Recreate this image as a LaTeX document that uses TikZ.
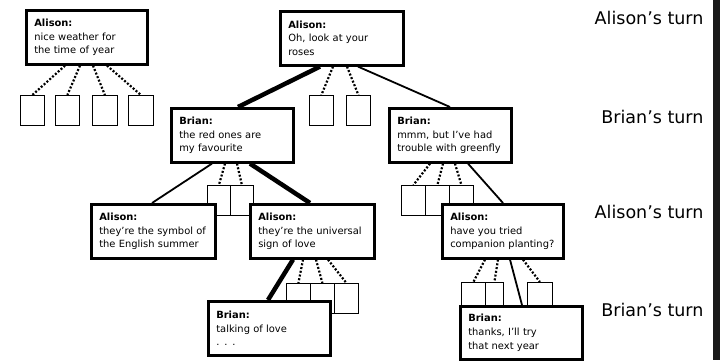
\documentclass[tikz,border=0pt]{standalone}
\usepackage{fontspec}
\setmainfont{DejaVu Sans}
\usetikzlibrary{backgrounds}
\tikzset{
  talk/.style={draw, line width=2.6pt, fill=white, anchor=north west, align=left,
    inner xsep=8pt, inner ysep=3pt, minimum height=54pt, text width=#1,
    font=\fontsize{9.9}{13.8}\selectfont},
  talk/.default=105pt,
  stub/.style={draw, line width=0.8pt, fill=white, anchor=north west,
    minimum width=#1, minimum height=30pt, inner sep=0pt},
  stub/.default=24pt,
  maybe/.style={line width=2.2pt, dash pattern=on 2pt off 1.8pt},
  said/.style={line width=1.8pt},
  chosen/.style={line width=4.5pt},
  turn/.style={anchor=east, font=\fontsize{17.5}{20}\selectfont}
}

\begin{document}
\begin{tikzpicture}[x=1pt,y=-1pt]
  % dialogue moves
  \node[talk] (a1) at (25,9)   {\textbf{Alison:}\\nice weather for\\the time of year};
  \node[talk=107pt] (a2) at (279,10) {\textbf{Alison:}\\Oh, look at your\\roses};
  \node[talk=106pt] (b1) at (170,107) {\textbf{Brian:}\\the red ones are\\my favourite};
  \node[talk=106pt] (b2) at (388,107) {\textbf{Brian:}\\mmm, but I've had\\trouble with greenfly};
  \node[talk=108pt] (a3) at (90,203)  {\textbf{Alison:}\\they're the symbol of\\the English summer};
  \node[talk=108pt] (a4) at (249,203) {\textbf{Alison:}\\they're the universal\\sign of love};
  \node[talk=106pt] (b3) at (207,300) {\textbf{Brian:}\\talking of love\\. . .};
  \node[talk=105pt] (a5) at (441,203) {\textbf{Alison:}\\have you tried\\companion planting?};
  \node[talk=106pt,minimum height=53pt] (b4) at (459,305) {\textbf{Brian:}\\thanks, I'll try\\that next year};

  % whose turn
  \node[turn] (t1) at (707,18)  {Alison's turn};
  \node[turn] (t2) at (707,117) {Brian's turn};
  \node[turn] (t3) at (707,212) {Alison's turn};
  \node[turn] (t4) at (707,310) {Brian's turn};
  \fill[black!90] (713,0) rectangle (720,360);

  \begin{scope}[on background layer]
    \fill[white] (0,0) rectangle (723,360);
    % moves not taken
    \node[stub] (s11) at (20,95) {};
    \node[stub] (s12) at (55,95) {};
    \node[stub=25pt] (s13) at (92,95) {};
    \node[stub=25pt] (s14) at (128,95) {};
    \node[stub] (s21) at (309,95) {};
    \node[stub] (s22) at (346,95) {};
    \node[stub=23pt] (s31) at (207,185) {};
    \node[stub=23pt] (s32) at (230,185) {};
    \node[stub] (s41) at (401,185) {};
    \node[stub] (s42) at (425,185) {};
    \node[stub] (s43) at (449,185) {};
    \node[stub] (s51) at (286,283) {};
    \node[stub] (s52) at (310,283) {};
    \node[stub] (s53) at (334,283) {};
    \node[stub] (s61) at (461,282) {};
    \node[stub=18pt] (s62) at (485,282) {};
    \node[stub=25pt] (s63) at (527,282) {};

    \draw[maybe] ([xshift=40pt]a1.south west) -- (s11.north);
    \draw[maybe] ([xshift=55pt]a1.south west) -- (s12.north);
    \draw[maybe] ([xshift=68pt]a1.south west) -- (s13.north);
    \draw[maybe] ([xshift=82pt]a1.south west) -- (s14.north);

    \draw[chosen] ([xshift=41pt]a2.south west) -- ([xshift=68pt]b1.north west);
    \draw[maybe] ([xshift=54pt]a2.south west) -- (s21.north);
    \draw[maybe] ([xshift=68pt]a2.south west) -- (s22.north);
    \draw[said] ([xshift=79pt]a2.south west) -- ([xshift=62pt]b2.north west);

    \draw[said] ([xshift=42pt]b1.south west) -- ([xshift=62pt]a3.north west);
    \draw[maybe] ([xshift=55pt]b1.south west) -- (s31.north);
    \draw[maybe] ([xshift=67pt]b1.south west) -- (s32.north);
    \draw[chosen] ([xshift=80pt]b1.south west) -- ([xshift=61pt]a4.north west);

    \draw[maybe] ([xshift=42pt]b2.south west) -- (s41.north);
    \draw[maybe] ([xshift=55pt]b2.south west) -- (s42.north);
    \draw[maybe] ([xshift=67pt]b2.south west) -- (s43.north);
    \draw[said] ([xshift=80pt]b2.south west) -- ([xshift=62pt]a5.north west);

    \draw[chosen] ([xshift=44pt]a4.south west) -- ([xshift=61pt]b3.north west);
    \draw[maybe] ([xshift=54pt]a4.south west) -- (s51.north);
    \draw[maybe] ([xshift=67pt]a4.south west) -- (s52.north);
    \draw[maybe] ([xshift=79pt]a4.south west) -- (s53.north);

    \draw[maybe] ([xshift=44pt]a5.south west) -- (s61.north);
    \draw[maybe] ([xshift=57pt]a5.south west) -- (s62.north);
    \draw[said] ([xshift=69pt]a5.south west) -- ([xshift=63pt]b4.north west);
    \draw[maybe] ([xshift=82pt]a5.south west) -- (s63.north);
  \end{scope}
\end{tikzpicture}
\end{document}
